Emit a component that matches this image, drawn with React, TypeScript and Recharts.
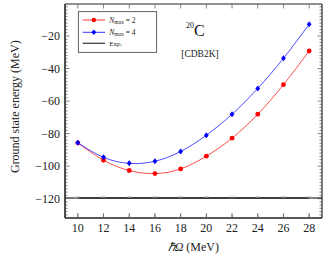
import React from "react";
import { LineChart, Line, XAxis, YAxis, Customized, ReferenceLine } from "recharts";

const hbarOmega = [10, 12, 14, 16, 18, 20, 22, 24, 26, 28];
const nmax2 = [-85.7, -96.4, -102.7, -104.6, -101.7, -93.9, -82.8, -68.1, -49.9, -29.2];
const nmax4 = [-85.7, -94.6, -98.3, -97.0, -91.0, -81.0, -68.1, -52.2, -33.7, -12.8];
const expValue = -119.6;
const xTicks = [10, 12, 14, 16, 18, 20, 22, 24, 26, 28];
const yMajorTicks = [-120, -100, -80, -60, -40, -20];
const yMinorTicks: number[] = [];
for (let v = -130; v <= -2; v += 2) if (v % 20 !== 0) yMinorTicks.push(v);

const X_DOMAIN: [number, number] = [9, 29];
const Y_DOMAIN: [number, number] = [-131.9, -0.3];

const data = hbarOmega.map((x, i) => ({ x, n2: nmax2[i], n4: nmax4[i], exp: expValue }));

const FONT = "Liberation Serif";
const TICK = "#666";
const FRAME = "#222";

const PX_X = (X_DOMAIN[1] - X_DOMAIN[0]) / 257;
const PX_Y = (Y_DOMAIN[1] - Y_DOMAIN[0]) / 214;
const MAJ = 4.5;
const MIN = 2.5;

const fmt = (v: number) => String(v).replace("-", "\u2212");

const BottomTick = (p: any) => {
  const { x, y, payload } = p;
  return (
    <g>
      <rect x={x - 0.4} y={y - MAJ} width={0.8} height={MAJ} fill={TICK} />
      <text x={x} y={y + 14} textAnchor="middle" style={{ fontFamily: FONT, fontSize: 12 }} fill="#222">
        {fmt(payload.value)}
      </text>
    </g>
  );
};

const LeftTick = (p: any) => {
  const { x, y, payload } = p;
  return (
    <g>
      <rect x={x} y={y - 0.4} width={MAJ} height={0.8} fill={TICK} />
      <text x={x - 5} y={y + 4} textAnchor="end" style={{ fontFamily: FONT, fontSize: 12 }} fill="#222">
        {fmt(payload.value)}
      </text>
    </g>
  );
};

const Diamond = (p: any) => {
  const { cx, cy, fill } = p;
  if (cx == null || cy == null) return null;
  const r = 3;
  return <polygon points={`${cx},${cy - r} ${cx + r * 0.8},${cy} ${cx},${cy + r} ${cx - r * 0.8},${cy}`} fill={fill} />;
};

const Circle = (p: any) => {
  const { cx, cy, fill } = p;
  if (cx == null || cy == null) return null;
  return <circle cx={cx} cy={cy} r={2.4} fill={fill} />;
};

const ExpMark = (p: any) => {
  const { cx, cy } = p;
  if (cx == null || cy == null) return null;
  return <rect x={cx - 2.5} y={cy - 1.6} width={5} height={1} fill="#bbb" />;
};

const Overlay = () => (
  <g style={{ fontFamily: FONT }}>
    <rect x={78.3} y={11.7} width={78.4} height={40.6} fill="#fff" stroke={FRAME} strokeWidth={0.7} />
    <line x1={82.7} y1={20} x2={105} y2={20} stroke="red" strokeWidth={0.8} />
    <circle cx={93.8} cy={20} r={2.2} fill="red" />
    <text x={109.3} y={22.5} style={{ fontFamily: FONT, fontSize: 7.5 }} fill="#222">
      <tspan style={{ fontStyle: "italic" }}>N</tspan>
      <tspan style={{ fontSize: 5.5 }} dy={1.5}>max</tspan>
      <tspan dy={-1.5}> = 2</tspan>
    </text>
    <line x1={82.7} y1={32.3} x2={105} y2={32.3} stroke="blue" strokeWidth={0.8} />
    <polygon points="93.8,29.5 96.2,32.3 93.8,35.1 91.4,32.3" fill="blue" />
    <text x={109.3} y={34.8} style={{ fontFamily: FONT, fontSize: 7.5 }} fill="#222">
      <tspan style={{ fontStyle: "italic" }}>N</tspan>
      <tspan style={{ fontSize: 5.5 }} dy={1.5}>max</tspan>
      <tspan dy={-1.5}> = 4</tspan>
    </text>
    <line x1={82.7} y1={43.3} x2={105} y2={43.3} stroke="#444" strokeWidth={1.3} />
    <text x={109.3} y={45.8} style={{ fontFamily: FONT, fontSize: 7 }} fill="#222">Exp.</text>

    <text x={186} y={36} fill="#111" style={{ fontFamily: FONT }}>
      <tspan style={{ fontSize: 8 }} dy={-8}>20</tspan>
      <tspan style={{ fontSize: 16 }} dy={8}>C</tspan>
    </text>
    <text x={200} y={57} textAnchor="middle" fill="#222" style={{ fontFamily: FONT, fontSize: 9.5 }}>[CDB2K]</text>

    <text x={193.3} y={250.5} textAnchor="middle" fill="#222" style={{ fontFamily: FONT, fontSize: 12 }}>
      <tspan style={{ fontStyle: "italic" }}>{"\u210F\u03A9"}</tspan> (MeV)
    </text>
    <text x={19} y={106.7} textAnchor="middle" fill="#222" transform="rotate(-90 19 106.7)" style={{ fontFamily: FONT, fontSize: 12 }}>
      Ground state energy (MeV)
    </text>
  </g>
);

const tickProps = { stroke: TICK, strokeWidth: 0.8, ifOverflow: "visible" as const };

export default function App() {
  const [x0, x1] = X_DOMAIN;
  const [y0, y1] = Y_DOMAIN;
  return (
    <div style={{ position: "absolute", left: 0, top: 0 }}>
      <LineChart width={327} height={262} data={data} margin={{ top: 4, right: 5, left: 0, bottom: 0 }}>
        <XAxis
          dataKey="x"
          type="number"
          domain={X_DOMAIN}
          ticks={xTicks}
          interval={0}
          height={44}
          tickSize={0}
          tickMargin={0}
          stroke={FRAME}
          strokeWidth={1}
          axisLine={{ stroke: FRAME, strokeWidth: 1 }}
          tickLine={false}
          tick={<BottomTick />}
        />
        <YAxis
          type="number"
          domain={Y_DOMAIN}
          ticks={yMajorTicks}
          interval={0}
          width={65}
          tickSize={0}
          tickMargin={0}
          stroke={FRAME}
          strokeWidth={1}
          axisLine={{ stroke: FRAME, strokeWidth: 1 }}
          tickLine={false}
          tick={<LeftTick />}
        />
        <ReferenceLine x={x0} stroke={FRAME} strokeWidth={1.2} ifOverflow="visible" />
        <ReferenceLine x={x1} stroke={FRAME} strokeWidth={1.2} ifOverflow="visible" />
        <ReferenceLine y={y0} stroke={FRAME} strokeWidth={1.2} ifOverflow="visible" />
        <ReferenceLine y={y1} stroke={FRAME} strokeWidth={1.2} ifOverflow="visible" />
        {xTicks.map((t) => (
          <ReferenceLine key={"xb" + t} segment={[{ x: t, y: y0 }, { x: t, y: y0 + MAJ * PX_Y }]} {...tickProps} />
        ))}
        {xTicks.map((t) => (
          <ReferenceLine key={"xt" + t} segment={[{ x: t, y: y1 }, { x: t, y: y1 - MAJ * PX_Y }]} {...tickProps} />
        ))}
        {yMajorTicks.map((t) => (
          <ReferenceLine key={"yr" + t} segment={[{ x: x1, y: t }, { x: x1 - MAJ * PX_X, y: t }]} {...tickProps} />
        ))}
        {yMinorTicks.map((t) => (
          <ReferenceLine key={"ml" + t} segment={[{ x: x0, y: t }, { x: x0 + MIN * PX_X, y: t }]} {...tickProps} />
        ))}
        {yMinorTicks.map((t) => (
          <ReferenceLine key={"mr" + t} segment={[{ x: x1, y: t }, { x: x1 - MIN * PX_X, y: t }]} {...tickProps} />
        ))}
        <ReferenceLine y={expValue} stroke="#000" strokeWidth={1.1} />
        <Line
          dataKey="exp"
          stroke="#000"
          strokeWidth={1.1}
          dot={<ExpMark />}
          isAnimationActive={false}
        />
        <Line
          type="natural"
          dataKey="n2"
          stroke="red"
          strokeWidth={0.7}
          dot={<Circle />}
          fill="red"
          isAnimationActive={false}
        />
        <Line
          type="natural"
          dataKey="n4"
          stroke="blue"
          strokeWidth={0.7}
          dot={<Diamond />}
          fill="blue"
          isAnimationActive={false}
        />
        <Customized component={Overlay} />
      </LineChart>
    </div>
  );
}
